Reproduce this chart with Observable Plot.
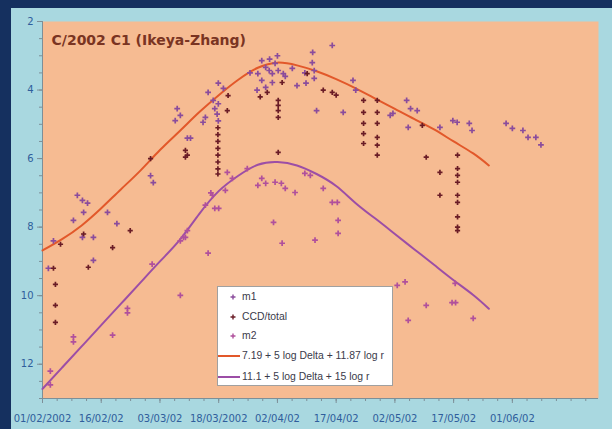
<!DOCTYPE html>
<html><head><meta charset="utf-8">
<script src="https://cdn.jsdelivr.net/npm/d3@7"></script>
<script src="https://cdn.jsdelivr.net/npm/@observablehq/plot@0.6"></script>
<style>
html,body{margin:0;padding:0;width:612px;height:429px;overflow:hidden;background:#15305f;font-family:Arial,"Liberation Sans",sans-serif}
#panel{position:absolute;left:11px;top:8px;width:601px;height:421px;background:#a9d8e0}
#chart{position:absolute;left:0;top:0}
#legend{position:absolute;left:217px;top:286px;width:176px;height:100px;background:#fff;border:1px solid #a0a0a0;box-sizing:border-box;font-size:10.4px;color:#3a3a4a}
#legend .row{position:absolute;left:0;height:12px;line-height:12px;white-space:nowrap}
#legend svg{position:absolute;left:0;top:0}
#legend span{position:absolute;left:24px;top:0}
</style></head><body>
<div id="panel"></div><div id="chart"></div><div id="legend"></div>
<script>
// day offsets from 01/02/2002
const curveDay  = [0,5,10,15,20,25,30,35,40,45,50,55,60,65,70,75,80,85,90,95,100,105,110,114];
const curve1Mag = [8.68,8.35,7.95,7.45,6.9,6.35,5.75,5.2,4.65,4.15,3.7,3.35,3.2,3.28,3.45,3.68,3.95,4.25,4.55,4.85,5.15,5.5,5.85,6.2];
const curve2Mag = [12.72,12.1,11.48,10.86,10.24,9.62,9.0,8.38,7.62,6.95,6.5,6.18,6.1,6.2,6.45,6.8,7.3,7.75,8.2,8.65,9.1,9.55,9.98,10.38];

const m1Day = [34.4,35.2,33.9,37,27.6,28.3,8.9,10.2,11.5,10.5,16.6,7.9,19,2.8,10.2,13,1.5,13,
  56,57,57.9,55,58.7,59.4,60.2,61.5,56,58.7,57,54.8,53,60,62,58,
  63.8,65,67,68.9,69,70,74,69.4,69.4,67.3,
  44.9,46.2,42.3,43.6,44.9,44,44.6,44.9,41.6,41,37.8,
  79.3,76.8,80,88.8,89.5,93,94,95.7,93.4,101.5,104.8,105.9,109,109.7,
  118.4,120,122.7,124,126,127.3];
const m1Mag = [4.54,4.74,4.89,5.4,6.5,6.7,7.07,7.22,7.3,7.57,7.57,7.8,7.9,8.4,8.3,8.3,9.2,8.97,
  3.14,3.34,3.43,3.52,3.52,3.22,3.43,3.52,3.72,3.78,3.92,4.0,3.5,3.0,3.6,3.1,
  3.37,3.87,3.5,3.2,2.9,4.6,2.7,3.43,3.66,3.8,
  3.8,3.95,4.07,4.3,4.4,4.54,4.7,4.9,4.8,4.94,5.4,
  3.72,4.65,4.0,4.74,4.68,4.3,4.54,4.6,5.09,5.09,4.89,4.94,4.97,5.18,
  4.97,5.12,5.18,5.38,5.38,5.6];

const ccdDay = [27.6,37,36.5,36.5,22.4,10.5,4.6,17.9,11.7,2.8,3.3,3.3,3.3,
  61.2,55.6,57.4,60.2,60.2,60.2,60.2,60.2,67.6,71.7,74,47.4,47.2,
  44.8,44.8,44.8,44.8,44.8,44.8,44.8,44.8,75,
  82,82,82,82,82,85.5,85.5,85.5,85.5,85.5,85.5,
  97,98,101.5,101.5,
  106,106,106,106,106,106,106,106,106];
const ccdMag = [6.0,5.9,5.76,5.96,8.1,8.2,8.5,8.6,9.17,9.2,9.67,10.28,10.78,
  3.78,4.2,4.07,4.3,4.45,4.6,4.8,5.82,3.52,4.0,4.07,4.16,4.6,
  5.1,5.3,5.5,5.7,5.9,6.1,6.3,6.45,4.15,
  4.3,4.65,4.97,5.27,5.56,4.3,4.65,4.97,5.38,5.61,5.9,
  5.03,5.96,6.4,7.07,
  5.9,6.29,6.49,6.69,7.07,7.28,7.7,8.0,8.1];

const m2Day = [44,45,43,47.2,48.5,46.7,52.3,56,57,55,59.4,61,62,64.5,67,68.4,71.7,74,59,61.2,69.6,42.3,36.5,
  43.4,41.6,28,35.2,21.7,21.7,7.9,7.9,17.9,2,2,36,37,35.2,
  75.3,75.5,75.5,92.6,90.6,105.4,104.6,105.5,98,93.4,110];
const m2Mag = [7.45,7.45,7.0,6.4,6.58,6.93,6.29,6.58,6.72,6.78,6.69,6.72,6.87,6.99,6.43,6.49,6.87,7.28,7.86,8.47,8.38,8.76,8.3,
  7.07,7.36,9.08,9.99,10.37,10.5,11.2,11.35,11.15,12.2,12.6,8.3,8.1,8.4,
  7.28,7.8,8.18,9.6,9.7,9.64,10.2,10.2,10.28,10.72,10.66];

const xTickDay   = [0,15,30,45,60,75,90,105,120];
const xTickLabel = ["01/02/2002","16/02/02","03/03/02","18/03/2002","02/04/02","17/04/02","02/05/02","17/05/02","01/06/02"];
const yTicks = [2,4,6,8,10,12];

const seriesNames = ["m1","CCD/total","m2"];
const curveNames = ["7.19 + 5 log Delta + 11.87 log r","11.1 + 5 log Delta + 15 log r"];

const C = {m1:"#8a4c9c", ccd:"#6a1c26", m2:"#b0509c", c1:"#e2582a", c2:"#9c4ea6", axis:"#7d8f98", lab:"#2f5e9c"};

const t0 = Date.UTC(2002,1,1);
const toDate = d => new Date(t0 + d*864e5);
const pts = (ds, ms) => ds.map((d,i)=>({x:toDate(d), y:ms[i]}));
const labelMap = new Map(xTickDay.map((d,i)=>[+toDate(d), xTickLabel[i]]));

const chart = Plot.plot({
  width:612, height:429,
  marginLeft:42, marginTop:21, marginRight:14, marginBottom:31,
  style:{background:"transparent", fontFamily:"'DejaVu Sans', Arial, sans-serif"},
  x:{type:"utc", domain:[toDate(0), toDate(142)]},
  y:{domain:[2,13], reverse:true},
  marks:[
    Plot.frame({fill:"#f6bb92", stroke:null}),
    Plot.axisY({ticks:d3.range(2,13.01,0.5), tickSize:3, tickFormat:()=> "", stroke:C.axis, label:null}),
    Plot.axisY({ticks:yTicks, tickSize:5, tickPadding:4, fontSize:10, fill:C.lab, stroke:C.axis, label:null}),
    Plot.axisX({ticks:d3.range(0,142.1,3.75).map(toDate), tickSize:3, tickFormat:()=> "", stroke:C.axis, label:null}),
    Plot.axisX({ticks:xTickDay.map(toDate), tickSize:5, tickPadding:11, fontSize:10, fill:C.lab, stroke:C.axis, label:null,
                tickFormat:d=>labelMap.get(+d)}),
    Plot.ruleX([toDate(0)], {stroke:C.axis}),
    Plot.ruleY([13], {stroke:C.axis}),
    Plot.line(pts(curveDay, curve1Mag), {x:"x", y:"y", stroke:C.c1, strokeWidth:2, curve:"natural"}),
    Plot.line(pts(curveDay, curve2Mag), {x:"x", y:"y", stroke:C.c2, strokeWidth:2, curve:"natural"}),
    Plot.dot(pts(m2Day, m2Mag), {x:"x", y:"y", symbol:"plus", r:2, stroke:C.m2, strokeWidth:1.7}),
    Plot.dot(pts(m1Day, m1Mag), {x:"x", y:"y", symbol:"plus", r:2, stroke:C.m1, strokeWidth:1.7}),
    Plot.dot(pts(ccdDay, ccdMag), {x:"x", y:"y", symbol:"plus", r:1.8, stroke:C.ccd, strokeWidth:1.7}),
    Plot.text(["C/2002 C1 (Ikeya-Zhang)"], {frameAnchor:"top-left", dx:9, dy:14, fontSize:14, fontWeight:"bold", fill:"#7a3422"})
  ]
});
document.getElementById("chart").appendChild(chart);

// legend
const lg = document.getElementById("legend");
const rows = [
  {t:seriesNames[0], c:C.m1, kind:"plus", y:4},
  {t:seriesNames[1], c:C.ccd, kind:"plus", y:24},
  {t:seriesNames[2], c:C.m2, kind:"plus", y:43},
  {t:curveNames[0], c:C.c1, kind:"line", y:63},
  {t:curveNames[1], c:C.c2, kind:"line", y:84}
];
rows.forEach(r=>{
  const div = document.createElement("div");
  div.className="row"; div.style.top=r.y+"px"; div.style.width="174px";
  const sw = r.kind==="plus"
    ? `<svg width="24" height="12"><path d="M15,3.5V8.5M12.5,6H17.5" stroke="${r.c}" stroke-width="1.4"/></svg>`
    : `<svg width="24" height="12"><line x1="0" x2="22" y1="6" y2="6" stroke="${r.c}" stroke-width="2"/></svg>`;
  div.innerHTML = sw + `<span>${r.t}</span>`;
  lg.appendChild(div);
});
</script>
</body></html>
